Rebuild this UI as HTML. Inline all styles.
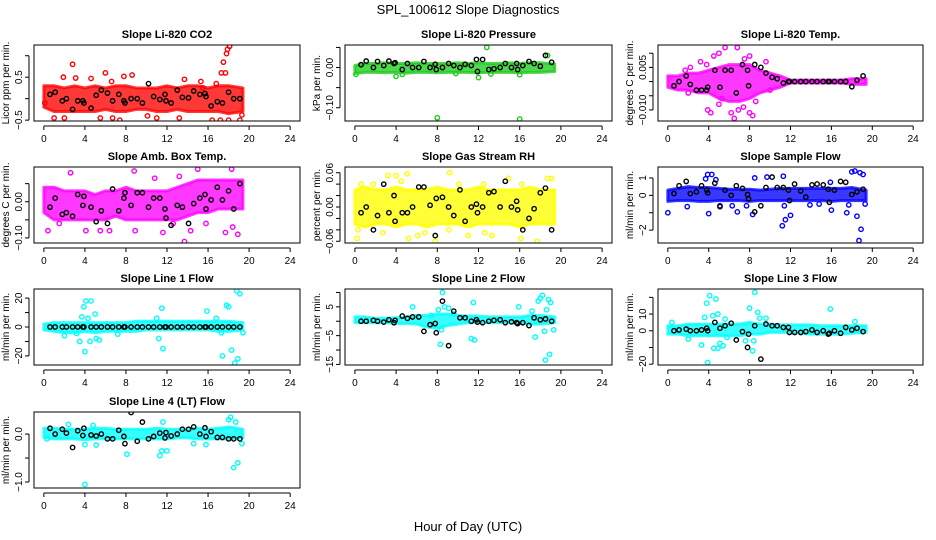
<!DOCTYPE html>
<html><head><meta charset="utf-8"><style>
body{margin:0;background:#fff}
svg{display:block;font-family:"Liberation Sans",sans-serif}
</style></head><body>
<svg id="chart" width="936" height="540" viewBox="0 0 936 540" xmlns="http://www.w3.org/2000/svg">
<rect width="936" height="540" fill="#fff"/>
<text x="468" y="14" text-anchor="middle" font-size="13">SPL_100612  Slope Diagnostics</text>
<text x="468" y="531" text-anchor="middle" font-size="13">Hour of Day (UTC)</text>
</svg>
<script>
// shared data
const blackTimes=[0.6,1.1,1.8,2.2,2.8,3.3,3.8,3.9,4.6,5.1,5.6,6.2,6.7,7.3,7.8,7.9,8.5,9.1,9.6,10.2,10.7,11.3,11.8,11.9,12.4,13.0,13.5,14.1,14.6,15.2,15.7,15.8,16.3,16.9,17.4,18.0,18.5,19.1];
const bandHours=[0,1,2,3,4,5,6,7,8,9,10,11,12,13,14,15,16,17,18,19.4];
const xTicks=[0,4,8,12,16,20,24];

const co2Lo=[-0.2,-0.3,-0.3,-0.3,-0.3,-0.3,-0.25,-0.3,-0.3,-0.25,-0.25,-0.3,-0.3,-0.25,-0.3,-0.3,-0.3,-0.3,-0.35,-0.3];
const co2Hi=[0.3,0.3,0.25,0.3,0.25,0.3,0.25,0.3,0.3,0.25,0.25,0.25,0.3,0.25,0.3,0.3,0.25,0.3,0.3,0.25];
const co2OutX=[2.8,1.9,3.1,4.6,6.0,7.8,8.6,6.6,13.7,15.3,17.3,17.5,17.8,17.9,18.1,17.7,1.0,2.0,5.5,6.7,7.4,10.1,11.0,13.2,16.4,17.2,18.0,19.1,19.3,0.1,16.8,15.5];
const co2OutY=[0.8,0.5,0.48,0.47,0.6,0.52,0.55,0.4,0.45,0.4,0.6,0.85,1.05,1.15,1.22,0.6,-0.45,-0.45,-0.45,-0.45,-0.5,-0.4,-0.45,-0.45,-0.5,-0.5,-0.5,-0.5,-0.38,-0.1,0.35,0.25];
const co2Black=[0.1,0.15,-0.05,0.0,-0.25,-0.05,-0.05,-0.1,-0.22,0.08,0.2,0.13,-0.05,0.1,-0.05,-0.1,0.0,0.0,-0.1,0.35,0.05,-0.02,0.1,-0.05,-0.1,0.2,0.03,0.02,0.18,0.1,0.12,0.05,-0.17,-0.07,-0.1,0.15,0.0,0.0];

const presLo=[-0.015,-0.012,-0.012,-0.013,-0.012,-0.014,-0.012,-0.012,-0.013,-0.012,-0.012,-0.012,-0.013,-0.012,-0.012,-0.012,-0.013,-0.012,-0.012,-0.01];
const presHi=[0.005,0.01,0.01,0.012,0.01,0.01,0.012,0.01,0.01,0.01,0.012,0.01,0.012,0.01,0.01,0.012,0.01,0.012,0.012,0.008];
const presOutX=[0.1,4.0,4.6,8.0,12.8,12.0,16.0,16.0,18.7,13.2,9.8];
const presOutY=[-0.017,-0.022,-0.017,-0.125,0.05,-0.025,-0.128,-0.018,0.03,-0.016,-0.015];
const presBlack=[0.007,0.016,0.0,0.015,0.005,0.016,0.01,0.012,-0.005,0.01,0.0,0.0,0.015,0.0,0.008,-0.005,0.0,0.01,0.005,0.0,0.008,0.005,0.02,-0.01,0.02,-0.005,-0.003,0.0,0.01,0.0,0.01,-0.005,0.005,0.015,0.01,0.003,0.03,0.013];

const tempLo=[-0.002,-0.003,-0.003,-0.004,-0.004,-0.006,-0.007,-0.007,-0.006,-0.004,-0.003,-0.002,-0.0005,-0.0005,-0.0005,-0.0005,-0.0005,-0.0005,-0.001,-0.001];
const tempHi=[0.002,0.002,0.003,0.003,0.004,0.005,0.006,0.006,0.006,0.004,0.003,0.002,0.0005,0.0005,0.0005,0.0005,0.0005,0.0005,0.001,0.001];
const tempOutX=[1.7,2.2,3.2,3.8,4.5,5.0,5.6,6.8,7.5,8.0,9.6,3.9,4.2,5.0,6.2,6.5,6.9,7.4,8.0,8.3,5.3,8.6,2.0,10.0];
const tempOutY=[0.004,0.005,0.007,0.006,0.009,0.01,0.012,0.012,0.008,0.009,0.007,-0.01,-0.011,-0.008,-0.011,-0.013,-0.01,-0.009,-0.011,-0.012,-0.006,-0.007,-0.004,-0.003];
const tempBlack=[-0.0015,0.0,0.002,-0.001,-0.003,-0.003,-0.003,-0.002,0.004,-0.002,0.004,0.004,-0.004,0.006,0.004,-0.0015,0.006,0.005,0.003,0.0015,0.001,-0.0005,0.0,0.0,0.0,0.0,0.0,0.0,0.0,0.0,0.0,0.0,0.0,0.0,0.0,-0.0018,0.0005,0.002];

const ambLo=[-0.03,-0.05,-0.05,-0.05,-0.05,-0.05,-0.05,-0.04,-0.05,-0.05,-0.05,-0.05,-0.05,-0.05,-0.04,-0.03,-0.03,-0.02,-0.02,-0.02];
const ambHi=[0.04,0.04,0.03,0.03,0.03,0.02,0.03,0.03,0.04,0.03,0.03,0.03,0.03,0.04,0.05,0.06,0.06,0.06,0.06,0.06];
const ambOutX=[2.6,0.4,1.5,4.1,5.5,6.4,8.9,8.8,10.8,11.6,13.2,13.7,14.3,15.0,18.3,17.7,18.9,18.4,15.8,12.6];
const ambOutY=[0.08,-0.08,-0.06,-0.08,-0.08,-0.08,-0.08,0.085,0.065,-0.085,0.07,-0.11,-0.08,0.09,0.09,-0.085,-0.09,-0.07,-0.06,-0.06];
const ambBlack=[-0.015,0.01,-0.035,-0.03,-0.04,0.02,-0.01,0.015,-0.015,-0.055,-0.025,-0.06,0.035,-0.025,0.01,0.025,-0.01,0.025,0.025,-0.015,0.01,0.01,-0.02,-0.045,-0.065,-0.01,-0.015,-0.06,-0.005,0.01,0.02,-0.02,0.005,0.04,0.005,0.03,-0.02,0.05];

const rhLo=[-0.03,-0.035,-0.03,-0.03,-0.035,-0.03,-0.03,-0.035,-0.03,-0.03,-0.03,-0.035,-0.03,-0.03,-0.03,-0.03,-0.035,-0.03,-0.03,-0.03];
const rhHi=[0.03,0.035,0.03,0.03,0.035,0.03,0.03,0.03,0.035,0.03,0.03,0.03,0.035,0.03,0.03,0.03,0.03,0.035,0.03,0.03];
const rhOutX=[0.3,0.2,0.6,1.8,3.2,4.0,5.1,4.5,5.2,6.1,6.8,7.8,9.2,10.1,11.0,12.5,12.6,13.3,14.9,16.1,16.2,17.7,18.7,19.1,2.7,9.1];
const rhOutY=[-0.04,-0.055,0.04,0.04,0.055,0.055,0.058,0.045,-0.055,-0.05,-0.045,-0.06,0.06,0.04,-0.05,0.04,-0.045,-0.05,0.05,-0.055,0.04,-0.06,0.05,0.05,-0.045,-0.04];
const rhBlack=[-0.01,0.0,-0.04,-0.015,0.04,-0.01,0.02,-0.025,-0.01,-0.01,0.0,0.035,0.035,0.003,-0.05,0.015,0.017,0.0,-0.015,0.03,-0.025,0.0,0.005,-0.01,0.0,0.025,0.027,0.0,0.045,0.0,0.01,-0.005,-0.04,-0.02,-0.003,0.025,0.033,-0.04];

const sfLo=[-0.35,-0.3,-0.3,-0.35,-0.35,-0.3,-0.3,-0.3,-0.35,-0.3,-0.3,-0.3,-0.3,-0.3,-0.3,-0.3,-0.35,-0.3,-0.3,-0.3];
const sfHi=[0.3,0.4,0.5,0.45,0.45,0.4,0.35,0.35,0.35,0.3,0.35,0.4,0.4,0.4,0.4,0.4,0.4,0.4,0.45,0.3];
const sfOutX=[0.0,1.9,3.7,3.9,4.3,4.7,4.0,5.1,6.3,6.8,7.7,8.3,8.5,9.7,11.3,11.2,11.5,12.0,11.4,15.9,16.0,17.5,18.0,18.3,18.5,18.7,18.9,18.8,19.1,19.3,17.7,14.8,13.9];
const sfOutY=[-1.0,-0.65,0.95,1.2,1.2,0.9,-1.05,-0.6,-0.6,-0.95,-0.6,-1.1,1.0,1.05,1.1,-1.75,-1.4,-1.15,-0.6,0.75,-0.85,-1.0,1.35,1.4,-1.2,-2.6,-1.95,1.3,1.2,-0.5,-0.55,-0.5,-0.55];
const sfBlack=[0.1,0.55,0.8,0.1,0.2,0.55,0.3,0.15,0.7,-0.65,0.3,0.0,0.55,0.4,0.05,-0.2,-0.95,-0.6,0.45,1.05,0.45,0.45,0.3,-0.3,0.65,0.25,-0.1,0.6,0.65,0.6,0.35,-0.4,0.3,0.8,0.75,0.05,0.2,0.35];

const l1Lo=[-2,-3,-4,-4,-3,-4,-3,-3,-3,-3,-2,-2,-2,-2,-2,-2,-2,-3,-3,-2];
const l1Hi=[2,3,3,3,3,3,3,3,3,4,4,4,4,4,4,4,4,4,4,3];
const l1OutX=[3.5,3.7,3.9,4.0,4.1,4.3,4.5,4.6,5.0,5.1,5.4,2.0,3.2,7.2,11.0,11.2,11.5,11.6,15.9,16.8,17.4,17.8,18.0,18.3,18.6,18.8,18.9,19.1,19.4,17.3];
const l1OutY=[-10,7,14,-17,18,6,-10,18,9,-8,-9,-6,-4.5,-5,6,-8,13,-15,11,6,-20,15,14,-16,-25,25,-22,23,-4,-4];
const l1Black=[0,0,0,0,0,0,0,0,0,0,0,0,0,0,0,0,0,0,0,0,0,0,0,0,0,0,0,0,0,0,0,0,0,0,0,0,0,0];

const l2Lo=[-0.5,-0.5,-0.5,-0.5,-0.8,-0.8,-1,-2,-2.5,-1.5,-1,-0.5,-0.5,-0.5,-0.5,-0.5,-0.5,-1,-1,-0.5];
const l2Hi=[1.5,1.5,1,1,1.2,1.5,2,2,2.5,2.5,2,1.8,1.8,1.5,1.5,1.5,1.5,2,2,1.5];
const l2OutX=[5.6,8.1,8.4,8.5,8.7,9.1,8.3,11.3,11.6,11.5,15.9,17.2,17.5,17.8,18.0,18.2,18.6,18.8,18.4,18.5,18.9,19.3,19.0,7.4,9.6];
const l2OutY=[5,4,-3,10,5,4.5,-8,-6,-6.5,6.5,5,3.5,-5.5,7,8,9,4,7.5,-3.5,-13.5,-11.5,-3,6.5,2,2.5];
const l2Black=[0,0,0.3,0,-0.3,0.5,-0.5,0.3,1.8,1,1.5,1.5,-3.5,-1.2,-0.8,-4,7,-8.5,3.5,1.2,1.2,0,0.5,-0.3,-0.5,0,0.3,0.5,-0.5,-0.2,-0.5,-0.8,-0.5,-1.5,1.2,0.5,0.8,0];

const l3Lo=[-2,-2,-3,-3,-3,-3,-3,-3,-2,-2,-1,-1,-1,-1.5,-2,-2,-2,-2,-1.5,-1];
const l3Hi=[3,3,4,4,4,4,4,4,5,4,4,3.5,3.5,3.5,3.5,3,3,3,3,3];
const l3OutX=[0.4,2.0,3.3,3.6,3.8,3.9,4.1,4.4,4.5,4.7,4.9,4.9,5.1,5.4,5.6,8.0,8.3,8.4,8.5,8.8,9.0,9.6,15.9,18.3,5.8,7.6];
const l3OutY=[5,-5,-8.5,8,16.5,-19,21,9,-10.5,19,10,-10.5,-7.5,-9,7,13.5,-12,-6,23,11,7.5,7.5,13,5.5,-4,-6];
const l3Black=[0,0.5,1,0,0,0.5,1.5,0,5,1.5,3,4.5,-5.5,-0.5,-10,-2,3,-17,4,3,3,2,2,-1,-1,-1,-0.5,0.5,-1,0,-2,-1.5,0,-1.5,2,0.5,1.5,-0.5];

const l4Lo=[-0.07,-0.1,-0.1,-0.1,-0.12,-0.1,-0.1,-0.1,-0.1,-0.1,-0.1,-0.1,-0.1,-0.08,-0.08,-0.1,-0.1,-0.1,-0.1,-0.08];
const l4Hi=[0.12,0.12,0.1,0.1,0.1,0.12,0.12,0.1,0.1,0.1,0.1,0.12,0.1,0.1,0.1,0.12,0.1,0.12,0.15,0.1];
const l4OutX=[0.3,2.4,4.0,4.0,4.8,5.1,8.1,11.3,11.5,11.6,12.0,14.6,15.8,18.0,18.2,18.5,18.9,19.3,18.7];
const l4OutY=[-0.1,0.2,-1.05,-0.22,0.18,-0.23,-0.42,-0.45,-0.35,0.25,-0.35,-0.2,-0.22,0.3,0.35,-0.7,-0.6,-0.2,0.25];
const l4Black=[0.12,0.0,0.1,0.02,-0.28,0.07,-0.03,0.12,-0.02,-0.04,0,-0.1,-0.1,0.08,-0.05,-0.2,0.45,-0.15,0.25,-0.1,-0.05,0.02,-0.08,0.03,-0.04,0,0.1,0.1,0.15,0,0.13,-0.05,0.05,-0.07,-0.07,-0.1,-0.1,-0.1];

const panels=[
 {id:'co2',title:'Slope Li-820 CO2',ylab:'Licor ppm per min.',col:0,row:0,ylim:[-0.52,1.25],ticks:[-0.5,0,0.5,1],labels:{'-0.5':'-0.5','0.5':'0.5'},color:'#ff0000',lo:co2Lo,hi:co2Hi,ox:co2OutX,oy:co2OutY,bk:co2Black},
 {id:'pressure',title:'Slope Li-820 Pressure',ylab:'kPa per min.',col:1,row:0,ylim:[-0.133,0.056],ticks:[-0.1,-0.05,0,0.05],labels:{'-0.1':'-0.10','0':'0.00'},color:'#1ecc1e',lo:presLo,hi:presHi,ox:presOutX,oy:presOutY,bk:presBlack},
 {id:'temp',title:'Slope Li-820 Temp.',ylab:'degrees C per min.',col:2,row:0,ylim:[-0.0139,0.0129],ticks:[-0.01,-0.005,0,0.005,0.01],labels:{'-0.01':'-0.010','0.005':'0.005'},color:'#ff00ff',lo:tempLo,hi:tempHi,ox:tempOutX,oy:tempOutY,bk:tempBlack},
 {id:'amb-box-temp',title:'Slope Amb. Box Temp.',ylab:'degrees C per min.',col:0,row:1,ylim:[-0.114,0.096],ticks:[-0.1,-0.05,0,0.05],labels:{'-0.1':'-0.10','0':'0.00'},color:'#ff00ff',lo:ambLo,hi:ambHi,ox:ambOutX,oy:ambOutY,bk:ambBlack},
 {id:'gas-stream-rh',title:'Slope Gas Stream RH',ylab:'percent per min.',col:1,row:1,ylim:[-0.063,0.07],ticks:[-0.06,-0.04,-0.02,0,0.02,0.04,0.06],labels:{'-0.06':'-0.06','0':'0.00','0.06':'0.06'},color:'#ffff00',lo:rhLo,hi:rhHi,ox:rhOutX,oy:rhOutY,bk:rhBlack},
 {id:'sample-flow',title:'Slope Sample Flow',ylab:'ml/min per min.',col:2,row:1,ylim:[-2.74,1.63],ticks:[-2,-1,0,1],labels:{'-2':'-2','0':'0','1':'1'},color:'#0000ff',lo:sfLo,hi:sfHi,ox:sfOutX,oy:sfOutY,bk:sfBlack},
 {id:'line1-flow',title:'Slope Line 1 Flow',ylab:'ml/min per min.',col:0,row:2,ylim:[-26.3,26.3],ticks:[-20,-10,0,10,20],labels:{'-20':'-20','0':'0','20':'20'},color:'#00ffff',lo:l1Lo,hi:l1Hi,ox:l1OutX,oy:l1OutY,bk:l1Black},
 {id:'line2-flow',title:'Slope Line 2 Flow',ylab:'ml/min per min.',col:1,row:2,ylim:[-15.2,11.2],ticks:[-15,-10,-5,0,5,10],labels:{'-15':'-15','-5':'-5','5':'5'},color:'#00ffff',lo:l2Lo,hi:l2Hi,ox:l2OutX,oy:l2OutY,bk:l2Black},
 {id:'line3-flow',title:'Slope Line 3 Flow',ylab:'ml/min per min.',col:2,row:2,ylim:[-20.5,25],ticks:[-20,-10,0,10,20],labels:{'-20':'-20','0':'0','10':'10'},color:'#00ffff',lo:l3Lo,hi:l3Hi,ox:l3OutX,oy:l3OutY,bk:l3Black},
 {id:'line4-flow',title:'Slope Line 4 (LT) Flow',ylab:'ml/min per min.',col:0,row:3,ylim:[-1.125,0.46],ticks:[-1,-0.5,0],labels:{'-1':'-1.0','0':'0.0'},color:'#00ffff',lo:l4Lo,hi:l4Hi,ox:l4OutX,oy:l4OutY,bk:l4Black}
];

const colX=[[34,300],[345,612],[658,923]];
const rowY=[45,167,289,412];
const boxH=76;
const NS='http://www.w3.org/2000/svg';
const svg=document.getElementById('chart');
function mk(tag,attrs,parent){const e=document.createElementNS(NS,tag);for(const k in attrs)e.setAttribute(k,attrs[k]);(parent||svg).appendChild(e);return e;}

panels.forEach(p=>{
  const x0=colX[p.col][0],x1=colX[p.col][1],y0=rowY[p.row],y1=y0+boxH;
  const xmin=-0.96,xmax=24.96;
  const sx=v=>x0+(v-xmin)/(xmax-xmin)*(x1-x0);
  const sy=v=>y1-(v-p.ylim[0])/(p.ylim[1]-p.ylim[0])*(y1-y0);
  const g=mk('g',{});
  
  
  const clipId='clip-'+p.id;
  const cp=mk('clipPath',{id:clipId},g);mk('rect',{x:x0,y:y0,width:x1-x0,height:boxH},cp);
  const plot=mk('g',{'clip-path':'url(#'+clipId+')'},g);
  let pts=bandHours.map((h,i)=>sx(h)+','+sy(p.hi[i]));
  pts=pts.concat(bandHours.map((h,i)=>sx(h)+','+sy(p.lo[i])).reverse());
  const band=mk('polygon',{points:pts.join(' '),fill:p.color,'fill-opacity':0.78,stroke:p.color,'stroke-opacity':0.78,'stroke-width':3,'stroke-linejoin':'round'},plot);
  
  
  p.ox.forEach((x,i)=>{
    const c=mk('circle',{cx:sx(x),cy:sy(p.oy[i]),r:2.2,fill:'none',stroke:p.color,'stroke-width':1.4},plot);
    
    
  });
  p.bk.forEach((v,i)=>{
    const c=mk('circle',{cx:sx(blackTimes[i]),cy:sy(v),r:2.2,fill:'none',stroke:'#000','stroke-width':1.4},plot);
    
    
  });
  const box=mk('rect',{x:x0,y:y0,width:x1-x0,height:boxH,fill:'none',stroke:'#000','stroke-width':1},g);
  
  
  const t=mk('text',{x:(x0+x1)/2,y:y0-7,'text-anchor':'middle','font-size':11,'font-weight':'bold'},g);
  t.textContent=p.title;
  
  
  const xa=mk('g',{},g);
  
  
  mk('line',{x1:sx(0),x2:sx(24),y1:y1+5,y2:y1+5,stroke:'#000'},xa);
  xTicks.forEach(v=>{
    mk('line',{x1:sx(v),x2:sx(v),y1:y1+5,y2:y1+9,stroke:'#000'},xa);
    const l=mk('text',{x:sx(v),y:y1+21,'text-anchor':'middle','font-size':10},xa);
    l.textContent=v;
  });
  const ya=mk('g',{},g);
  
  
  const tk=p.ticks;
  mk('line',{x1:x0-5,x2:x0-5,y1:sy(tk[0]),y2:sy(tk[tk.length-1]),stroke:'#000'},ya);
  tk.forEach(v=>{
    mk('line',{x1:x0-9,x2:x0-5,y1:sy(v),y2:sy(v),stroke:'#000'},ya);
    const key=String(v);
    if(p.labels[key]!==undefined){
      const l=mk('text',{x:0,y:0,'text-anchor':'middle','font-size':10,transform:'translate('+(x0-12)+','+sy(v)+') rotate(-90)'},ya);
      l.textContent=p.labels[key].replace('-','\u2212');
    }
  });
  const yl=mk('text',{x:0,y:0,'text-anchor':'middle','font-size':10,transform:'translate('+(x0-25)+','+(y0+boxH/2)+') rotate(-90)'},g);
  yl.textContent=p.ylab;
  
  
});
</script>
</body></html>
